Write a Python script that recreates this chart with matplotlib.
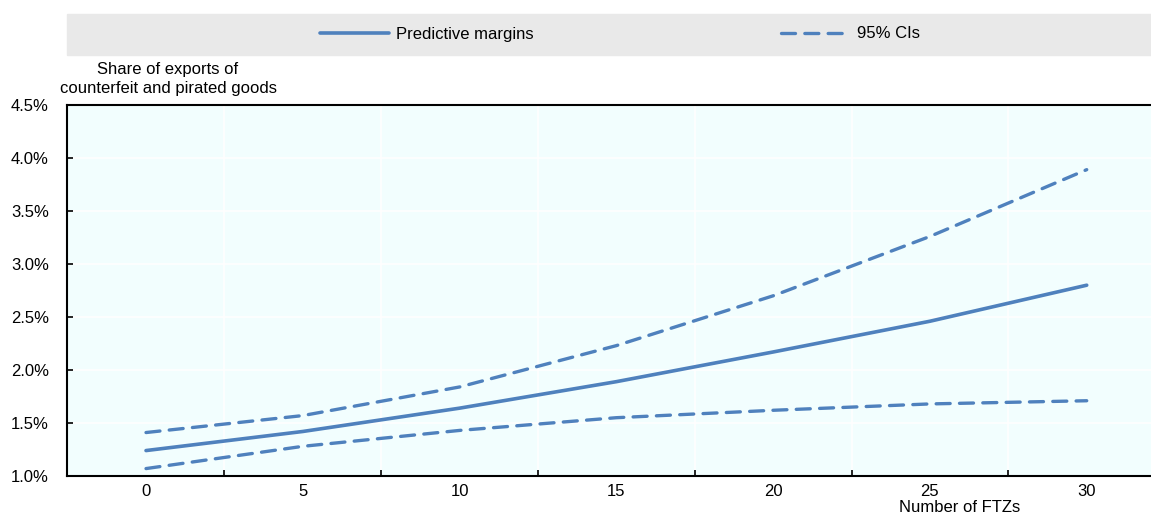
import matplotlib.pyplot as plt
import matplotlib.patches as mpatches
from matplotlib.ticker import FuncFormatter, FixedLocator

plt.rcParams['font.family'] = ['Liberation Sans', 'DejaVu Sans']

# Predictive margins by number of FTZs (share of exports, %)
ftzs = [0, 5, 10, 15, 20, 25, 30]
margins = [1.24, 1.42, 1.64, 1.89, 2.17, 2.46, 2.80]
ci_upper = [1.41, 1.57, 1.84, 2.23, 2.70, 3.26, 3.89]
ci_lower = [1.07, 1.28, 1.43, 1.55, 1.62, 1.68, 1.71]

blue = '#4F81BD'
fs = 12

fig = plt.figure(figsize=(11.51, 5.16), dpi=100)
ax = fig.add_axes([67 / 1151, 1 - 476 / 516, 1 - 67 / 1151, (476 - 105) / 516])
ax.set_facecolor('#F2FEFE')

ax.plot(ftzs, margins, color=blue, lw=2.6, solid_capstyle='round',
        label='Predictive margins')
ax.plot(ftzs, ci_upper, color=blue, lw=2.4, ls=(0, (4.2, 2.8)),
        dash_capstyle='round', label='95% CIs')
ax.plot(ftzs, ci_lower, color=blue, lw=2.4, ls=(0, (4.2, 2.8)),
        dash_capstyle='round')

ax.set_xlim(-2.52, 32.05)
ax.set_ylim(1.0, 4.5)

# x labels sit on the values, tick marks and grid between them
ax.set_xticks(ftzs)
ax.xaxis.set_minor_locator(FixedLocator([2.5, 7.5, 12.5, 17.5, 22.5, 27.5]))
ax.tick_params(axis='x', which='major', length=0, pad=6, labelsize=fs)
ax.tick_params(axis='x', which='minor', direction='in', length=4.5, width=1.2)
ax.grid(axis='x', which='minor', color='white', lw=1.2)

ax.set_yticks([1.0, 1.5, 2.0, 2.5, 3.0, 3.5, 4.0, 4.5])
ax.yaxis.set_major_formatter(FuncFormatter(lambda v, p: f'{v:.1f}%'))
ax.tick_params(axis='y', direction='in', length=4.5, width=1.2, pad=13, labelsize=fs)
ax.grid(axis='y', color='white', lw=1.2)
ax.set_axisbelow(True)

for side in ['left', 'bottom', 'top']:
    ax.spines[side].set_linewidth(1.5)
ax.spines['right'].set_visible(False)

fig.text(168 / 1151, 1 - 79 / 516, 'Share of exports of\ncounterfeit and pirated goods',
         ha='center', va='center', fontsize=fs, linespacing=1.35)
fig.text(960 / 1151, 1 - 508 / 516, 'Number of FTZs', ha='center', va='center', fontsize=fs)

# legend band across the top
fig.patches.append(mpatches.Rectangle((67 / 1151, 1 - 55 / 516), 1 - 67 / 1151, 41 / 516,
                                      transform=fig.transFigure, color='#E9E9E9', zorder=0))
handles, labels = ax.get_legend_handles_labels()
fig.legend(handles, labels, loc='center', bbox_to_anchor=(620 / 1151, 1 - 34 / 516),
           ncol=2, frameon=False, fontsize=fs, handlelength=4.1, handletextpad=0.42,
           columnspacing=14.9)

fig.savefig('out.png', dpi=100)
